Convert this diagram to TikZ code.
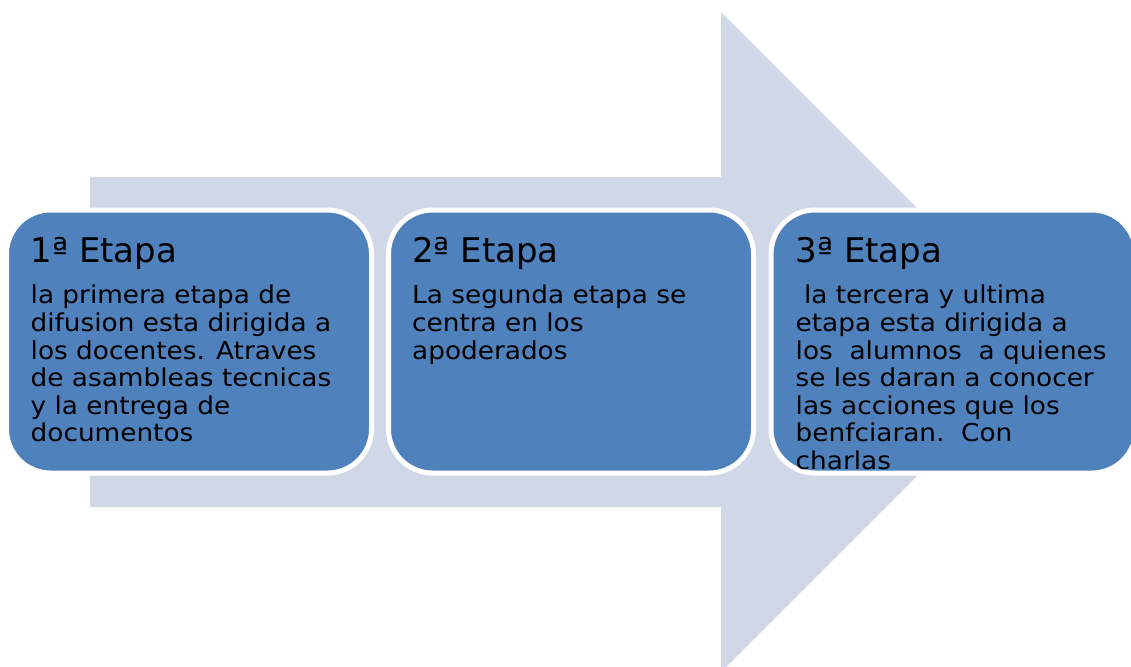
\documentclass[tikz,border=0pt]{standalone}
\usepackage{fontspec}
\setmainfont{DejaVu Sans}
\newfontfamily\bodyfont{DejaVu Sans}[FakeStretch=1.07]
\usetikzlibrary{calc}
\definecolor{gray1}{RGB}{208,216,232}
\definecolor{blue1}{RGB}{79,129,189}
\tikzset{
  etapa/.style={rectangle,rounded corners=44pt,draw=white,line width=5pt,fill=blue1,
    minimum width=365pt,minimum height=263pt,inner sep=0pt,outer sep=0pt},
  titulo/.style={anchor=base west,inner sep=0pt,font=\fontsize{34}{40}\selectfont},
  texto/.style={anchor=north west,inner sep=0pt,align=left,
    font=\bodyfont\fontsize{24.6}{27.6}\selectfont}
}

\begin{document}
\begin{tikzpicture}[x=1pt,y=-1pt]
\useasboundingbox (0,0) rectangle (1131,666);
\clip (0,0) rectangle (1131,666);
% big arrow behind
\fill[gray1] (90,177) -- (721,177) -- (721,12) -- (1051,342) -- (721,672) -- (721,507) -- (90,507) -- cycle;
% the three stages
\node[etapa] (etapa1) at (189,341.5) {};
\node[etapa] (etapa2) at (571,341.5) {};
\node[etapa] (etapa3) at (953.5,341.5) {};
\node[titulo] (tit1) at (30.5,262) {1ª Etapa};
\node[titulo] (tit2) at (412,262) {2ª Etapa};
\node[titulo] (tit3) at (795.5,262) {3ª Etapa};
\node[texto] (txt1) at (30.5,285) {la primera etapa de\\difusion esta dirigida a\\los docentes. Atraves\\de asambleas tecnicas\\y la entrega de\\documentos};
\node[texto] (txt2) at (412,285) {La segunda etapa se\\centra en los\\apoderados};
\node[texto] (txt3) at (795.5,285) {~la tercera y ultima\\etapa esta dirigida a\\los~~alumnos~~a quienes\\se les daran a conocer\\las acciones que los\\benfciaran.~~Con\\charlas};
\end{tikzpicture}
\end{document}
